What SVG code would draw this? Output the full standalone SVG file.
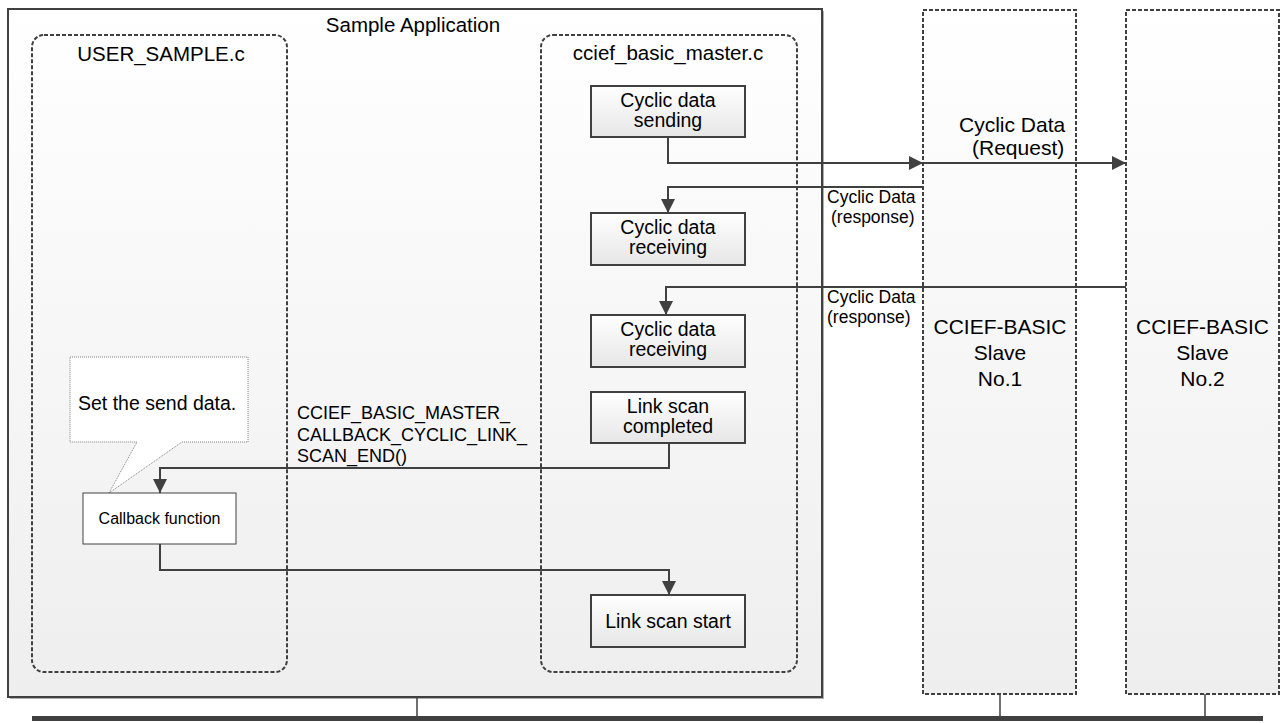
<svg xmlns="http://www.w3.org/2000/svg" width="1284" height="723" viewBox="0 0 1284 723">
<style>
text{font-family:"Liberation Sans",Arial,sans-serif;fill:#000}
.c{text-anchor:middle}
.dash{fill:none;stroke:#404040;stroke-width:2;stroke-dasharray:4 2}
.proc{fill:url(#gBox);stroke:#404040;stroke-width:2}
.conn{fill:none;stroke:#404040;stroke-width:2}
.f19{font-size:19.5px}
.f21{font-size:21px}
.f17{font-size:17.5px}
</style>
<defs>
<linearGradient id="gMain" x1="0" y1="0" x2="0" y2="1">
<stop offset="0" stop-color="#ffffff"/><stop offset="1" stop-color="#eeeeee"/>
</linearGradient>
<linearGradient id="gBox" x1="0" y1="0" x2="0" y2="1">
<stop offset="0" stop-color="#ffffff"/><stop offset="1" stop-color="#e6e6e6"/>
</linearGradient>
<marker id="arr" viewBox="0 0 14 14" refX="14" refY="7" markerWidth="14" markerHeight="14" markerUnits="userSpaceOnUse" orient="auto">
<path d="M0,0 L14,7 L0,14 Z" fill="#404040"/>
</marker>
</defs>

<g id="sample-application">
<rect x="10" y="11" width="814" height="688" fill="#b0b0b0"/>
<rect x="8" y="9" width="814" height="688" fill="url(#gMain)" stroke="#404040" stroke-width="2"/>
<text class="c" x="413" y="32" style="font-size:20.5px">Sample Application</text>
</g>

<g id="user-sample">
<rect x="32" y="35" width="255" height="637" rx="12" class="dash"/>
<text class="c" x="161" y="61" style="font-size:20.5px">USER_SAMPLE.c</text>
</g>

<g id="ccief-basic-master">
<rect x="541" y="35" width="256" height="637" rx="12" class="dash"/>
<text class="c" x="668" y="60" style="font-size:20.5px">ccief_basic_master.c</text>
</g>

<g id="slave1">
<rect x="923" y="10" width="153" height="684" fill="url(#gMain)"/>
<rect x="923" y="10" width="153" height="684" class="dash"/>
<text class="c f21" x="1000" y="334">CCIEF-BASIC</text>
<text class="c f21" x="1000" y="360">Slave</text>
<text class="c f21" x="1000" y="386">No.1</text>
</g>

<g id="slave2">
<rect x="1126" y="10" width="153" height="684" fill="url(#gMain)"/>
<rect x="1126" y="10" width="153" height="684" class="dash"/>
<text class="c f21" x="1202.5" y="334">CCIEF-BASIC</text>
<text class="c f21" x="1202.5" y="360">Slave</text>
<text class="c f21" x="1202.5" y="386">No.2</text>
</g>

<g id="cyclic-sending">
<rect x="591" y="86" width="154" height="51" class="proc"/>
<text class="c f19" x="668" y="107">Cyclic data</text>
<text class="c f19" x="668" y="127">sending</text>
</g>

<g id="cyclic-receiving-1">
<rect x="591" y="213" width="154" height="52" class="proc"/>
<text class="c f19" x="668" y="234">Cyclic data</text>
<text class="c f19" x="668" y="254">receiving</text>
</g>

<g id="cyclic-receiving-2">
<rect x="591" y="315" width="154" height="52" class="proc"/>
<text class="c f19" x="668" y="336">Cyclic data</text>
<text class="c f19" x="668" y="356">receiving</text>
</g>

<g id="link-scan-completed">
<rect x="591" y="392" width="154" height="51" class="proc"/>
<text class="c f19" x="668" y="413">Link scan</text>
<text class="c f19" x="668" y="433">completed</text>
</g>

<g id="link-scan-start">
<rect x="591" y="595" width="154" height="52" class="proc"/>
<text class="c f19" x="668" y="628">Link scan start</text>
</g>

<g id="callout">
<path d="M70,357 H248 V442 H182 L109,493 L137,442 H70 Z" fill="#ffffff" stroke="#808080" stroke-width="1" stroke-dasharray="1 1"/>
<text x="78" y="410" class="f19">Set the send data.</text>
</g>

<g id="callback-function">
<rect x="83" y="493" width="153" height="51" fill="#ffffff" stroke="#404040" stroke-width="1"/>
<text class="c" x="159.5" y="524" style="font-size:16px">Callback function</text>
</g>

<g id="connectors">
<path class="conn" d="M668,137 V163 H923" marker-end="url(#arr)"/>
<path class="conn" d="M923,163 H1126" marker-end="url(#arr)"/>
<path class="conn" d="M923,187 H668 V213" marker-end="url(#arr)"/>
<path class="conn" d="M1126,287 H666 V315" marker-end="url(#arr)"/>
<path class="conn" d="M669,443 V468 H160 V493" marker-end="url(#arr)"/>
<path class="conn" d="M160,544 V570 H669 V595" marker-end="url(#arr)"/>
<line x1="417" y1="698" x2="417" y2="716" stroke="#404040" stroke-width="1.5"/>
<line x1="1000" y1="694" x2="1000" y2="716" stroke="#404040" stroke-width="1.5"/>
<line x1="1205" y1="694" x2="1205" y2="716" stroke="#404040" stroke-width="1.5"/>
<rect x="32" y="716" width="1231" height="5" fill="#404040"/>
<text x="959" y="132" class="f21">Cyclic Data</text>
<text x="972" y="155" class="f21">(Request)</text>
<text x="827" y="203" class="f17">Cyclic Data</text>
<text x="831" y="223" class="f17">(response)</text>
<text x="827" y="303" class="f17">Cyclic Data</text>
<text x="827" y="323" class="f17">(response)</text>
<text x="297" y="419" style="font-size:18px">CCIEF_BASIC_MASTER_</text>
<text x="297" y="441" style="font-size:18px">CALLBACK_CYCLIC_LINK_</text>
<text x="297" y="462" style="font-size:18px">SCAN_END()</text>
</g>
</svg>
